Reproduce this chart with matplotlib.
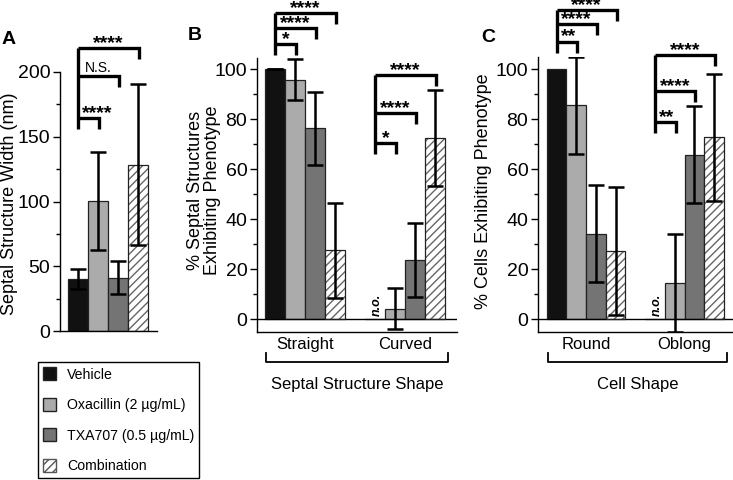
import numpy as np
import matplotlib
matplotlib.use("Agg")
import matplotlib.pyplot as plt
from matplotlib.patches import Patch

plt.rcParams.update({"font.family": ["Liberation Sans", "DejaVu Sans"], "font.size": 12,
                     "axes.linewidth": 1.0})

treatments = ["Vehicle", "Oxacillin (2 µg/mL)", "TXA707 (0.5 µg/mL)", "Combination"]
colors = ["#111111", "#ababab", "#747474", "white"]

# panel A: septal structure width (nm)
width_mean = [40, 100.5, 41, 128.5]
width_sd = [7.7, 38, 12.7, 62]

# panel B: septal structure shape (%)
septal_groups = ["Straight", "Curved"]
septal_mean = [[100, 95.8, 76.3, 27.5], [0, 4.2, 23.7, 72.5]]
septal_sd = [[0, 8.2, 14.7, 19.1], [np.nan, 8.2, 14.7, 19.1]]

# panel C: cell shape (%)
cell_groups = ["Round", "Oblong"]
cell_mean = [[100, 85.5, 34.2, 27.3], [0, 14.5, 65.8, 72.7]]
cell_sd = [[np.nan, 19.5, 19.4, 25.5], [np.nan, 19.5, 19.4, 25.5]]

# significance vs vehicle: (group, treatment index, bracket height, label)
width_sig = [(0, 1, 164.5, "****"), (0, 2, 197, "N.S."), (0, 3, 218.5, "****")]
septal_sig = [(0, 1, 110, "*"), (0, 2, 116.4, "****"), (0, 3, 122.4, "****"),
              (1, 1, 70.4, "*"), (1, 2, 82.4, "****"), (1, 3, 97.6, "****")]
cell_sig = [(0, 1, 111, "**"), (0, 2, 118, "****"), (0, 3, 123.6, "****"),
            (1, 1, 78.8, "**"), (1, 2, 91.2, "****"), (1, 3, 105.6, "****")]

W, H = 733, 480
fig = plt.figure(figsize=(W / 100, H / 100), dpi=100)

def px_axes(x0, x1, ytop, ybot):
    return fig.add_axes([x0 / W, 1 - ybot / H, (x1 - x0) / W, (ybot - ytop) / H])

def style(ax, ylim, major, minor):
    ax.set_ylim(*ylim)
    for s in ["top", "right"]:
        ax.spines[s].set_visible(False)
    ax.set_xticks([])
    ax.set_yticks(major)
    ax.set_yticks(minor, minor=True)
    ax.tick_params(axis="y", which="major", length=5, width=1, labelsize=14, pad=2)
    ax.tick_params(axis="y", which="minor", length=3, width=1)

def draw_bars(ax, xs, vals, errs):
    for i, (x, v) in enumerate(zip(xs, vals)):
        if i == 3:
            ax.bar(x, v, 1, color="white", edgecolor="#666666", hatch="////", lw=0, zorder=2)
            ax.bar(x, v, 1, fill=False, edgecolor="#222222", lw=0.9, zorder=3)
        else:
            ax.bar(x, v, 1, color=colors[i], edgecolor="#222222", lw=0.9, zorder=2)
    ax.errorbar(xs, vals, yerr=errs, fmt="none", ecolor="black", elinewidth=1.8,
                capsize=5.5, capthick=1.8, zorder=4)

def draw_sig(ax, sig, offset, drop):
    fig.canvas.draw()
    r = fig.canvas.get_renderer()
    groups = sorted(set(s[0] for s in sig))
    for g in groups:
        items = [s for s in sig if s[0] == g]
        x0 = g * offset
        ys = [s[2] for s in items]
        ax.plot([x0, x0], [min(ys) - drop, max(ys)], color="black", lw=2.4,
                clip_on=False, solid_capstyle="butt", zorder=5)
        for _, t, y, lab in items:
            x1 = x0 + t + 0.05
            ax.plot([x0, x1, x1], [y, y, y - drop], color="black", lw=2.4,
                    clip_on=False, solid_capstyle="butt", solid_joinstyle="miter", zorder=5)
            if "*" in lab:
                kw = dict(fontsize=14, fontweight="bold")
                dy = 0
            else:
                kw = dict(fontsize=10)
                dy = 2.5
            txt = ax.annotate(lab, xy=((x0 + x1) / 2, y), xytext=(0, dy),
                              textcoords="offset points", ha="center", va="baseline",
                              annotation_clip=False, **kw)
            bb = txt.get_window_extent(r)
            left_px = ax.transData.transform((x0, y))[0] + 4
            if bb.x0 < left_px:
                xn = ax.transData.inverted().transform((left_px + bb.width / 2, 0))[0]
                txt.xy = (xn, y)

# ---- panel A
axA = px_axes(60, 157, 72, 331)
style(axA, (0, 200), [0, 50, 100, 150, 200], [25, 75, 125, 175])
axA.set_xlim(-0.9, 3.95)
draw_bars(axA, np.arange(4), width_mean, width_sd)
draw_sig(axA, width_sig, 0, 8.5)

# ---- panels B, C
def grouped(ax, groups, means, sds, sig, xlim, title_lbl):
    style(ax, ax.get_ylim(), [0, 20, 40, 60, 80, 100], [10, 30, 50, 70, 90])
    ax.set_xlim(*xlim)
    ax.axhline(0, color="black", lw=1, zorder=3)
    for g in range(len(groups)):
        xs = np.arange(4) + g * 5
        draw_bars(ax, xs, means[g], sds[g])
        ax.text(g * 5 + 0.1, 1.2, "n.o." if g == 1 else "", rotation=90, ha="center",
                va="bottom", fontsize=9, fontweight="bold", style="italic")
    tr = ax.get_xaxis_transform()
    for g, name in enumerate(groups):
        ax.text(g * 5 + 1.5, -0.045, name, transform=tr, ha="center", va="center",
                fontsize=12, clip_on=False)
    ax.plot([-0.45, -0.45, 8.65, 8.65], [-0.075, -0.11, -0.11, -0.075], transform=tr,
            color="black", lw=1.3, clip_on=False)
    ax.text(4.1, -0.19, title_lbl, transform=tr, ha="center", va="center", fontsize=12)
    draw_sig(ax, sig, 5, 4.4)

axB = px_axes(257, 457, 58, 332)
axB.set_ylim(-5.2, 104.4)
grouped(axB, septal_groups, septal_mean, septal_sd, septal_sig, (-0.9, 9.1),
        "Septal Structure Shape")

axC = px_axes(538, 733, 57, 332)
axC.set_ylim(-5.2, 104.8)
grouped(axC, cell_groups, cell_mean, cell_sd, cell_sig, (-0.94, 8.96), "Cell Shape")

# labels
fig.text(10 / W, 1 - 204 / H, "Septal Structure Width (nm)", rotation=90, ha="center",
         va="center", fontsize=13)
fig.text(204 / W, 1 - 190 / H, "% Septal Structures\nExhibiting Phenotype", rotation=90,
         ha="center", va="center", fontsize=13, linespacing=1.0)
fig.text(484 / W, 1 - 191 / H, "% Cells Exhibiting Phenotype", rotation=90, ha="center",
         va="center", fontsize=13)
for lbl, x, y in [("A", 9, 40), ("B", 195, 36), ("C", 488, 37)]:
    fig.text(x / W, 1 - y / H, lbl, ha="center", va="center", fontsize=14, fontweight="bold")

handles = [Patch(facecolor=colors[0], edgecolor="#222222"),
           Patch(facecolor=colors[1], edgecolor="#222222"),
           Patch(facecolor=colors[2], edgecolor="#222222"),
           Patch(facecolor="white", edgecolor="#555555", hatch="////")]
leg = fig.legend(handles, treatments, loc="upper left", bbox_to_anchor=(38 / W, 1 - 362 / H),
                 fontsize=10.2, frameon=True, fancybox=False, edgecolor="black", framealpha=1,
                 handlelength=0.9, handleheight=1.0, labelspacing=1.15, borderpad=0.38,
                 handletextpad=0.75, borderaxespad=0)
leg.get_frame().set_linewidth(1.0)

fig.savefig("out.png", dpi=100)
